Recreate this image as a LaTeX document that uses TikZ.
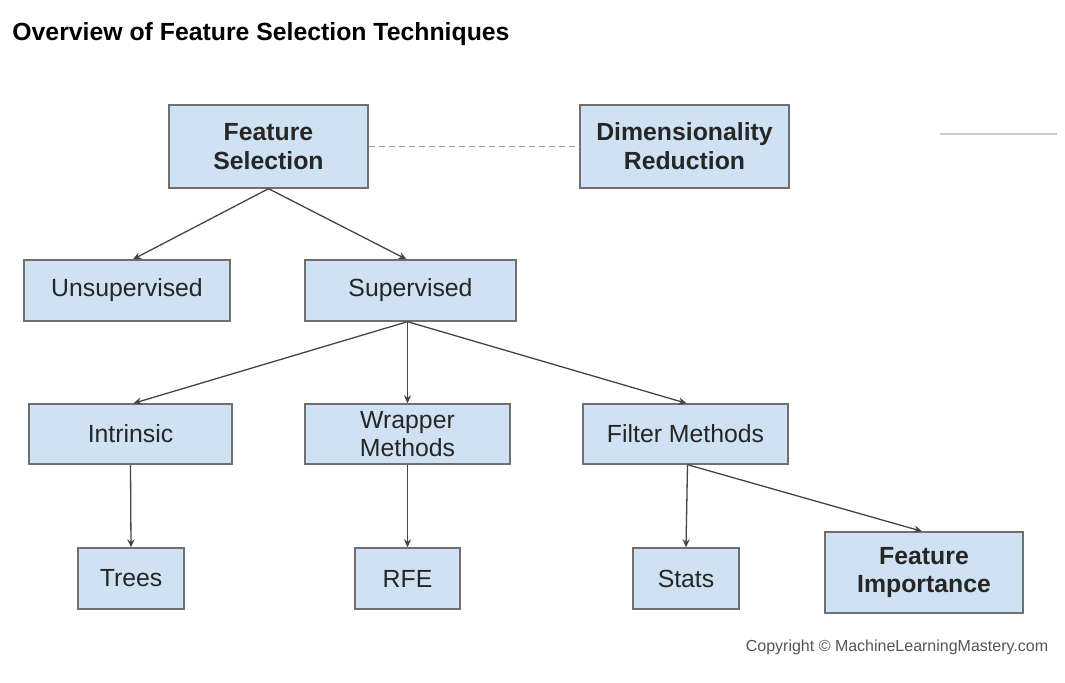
\documentclass[tikz,border=0pt]{standalone}
\usepackage{fontspec}
\setmainfont{Liberation Sans}
\usetikzlibrary{arrows.meta}
\definecolor{boxfill}{HTML}{CFE2F3}
\definecolor{boxline}{HTML}{707070}
\definecolor{arrowc}{HTML}{454545}
\definecolor{dashc}{HTML}{9A9A9A}
\definecolor{copyc}{HTML}{555555}
\begin{document}
\begin{tikzpicture}[x=0.5pt,y=-0.5pt,
  box/.style={draw=boxline, fill=boxfill, line width=0.7pt, inner sep=0pt, align=center,
              text=black!85, font=\fontsize{12.4}{14.4}\selectfont},
  boldbox/.style={box, font=\bfseries\fontsize{12.4}{14.4}\selectfont},
  conn/.style={draw=arrowc, line width=0.65pt, -{Stealth[length=4pt,width=3.6pt]}},
  dashconn/.style={draw=dashc, line width=0.7pt, dash pattern=on 3pt off 2pt},
]
\fill[white] (0,0) rectangle (1065,683);
\useasboundingbox (0,0) rectangle (1065,683);

\node[anchor=west, inner sep=0pt, font=\bfseries\fontsize{12.4}{14}\selectfont] (title) at (12,34) {Overview of Feature Selection Techniques};

% row 1
\node[boldbox, minimum width=99.5pt, minimum height=41.5pt] (fs) at (268.5,146.5) {Feature\\Selection};
\node[boldbox, minimum width=104.5pt, minimum height=41.5pt] (dr) at (684.5,146.5) {Dimensionality\\Reduction};

% row 2
\node[box, minimum width=103pt, minimum height=30.5pt] (uns) at (127,290.5) {Unsupervised};
\node[box, minimum width=105.5pt, minimum height=30.5pt] (sup) at (410.5,290.5) {Supervised};

% row 3
\node[box, minimum width=101.5pt, minimum height=30pt] (intr) at (130.5,434) {Intrinsic};
\node[box, minimum width=102.5pt, minimum height=30pt] (wrap) at (407.5,434) {Wrapper\\Methods};
\node[box, minimum width=102.5pt, minimum height=30pt] (filt) at (685.5,434) {Filter Methods};

% row 4
\node[box, minimum width=53pt, minimum height=30.5pt] (trees) at (131,578.5) {Trees};
\node[box, minimum width=52.5pt, minimum height=30.5pt] (rfe) at (407.5,578.5) {RFE};
\node[box, minimum width=53pt, minimum height=30.5pt] (stats) at (686,578.5) {Stats};
\node[boldbox, minimum width=99pt, minimum height=40.5pt] (fi) at (924,572.5) {Feature\\Importance};

% connectors
\draw[dashconn] (fs.east) -- (dr.west);
\draw[conn] (fs.south) -- ([xshift=3pt]uns.north);
\draw[conn] (fs.south) -- ([xshift=-2pt]sup.north);
\draw[conn] ([xshift=-1.5pt]sup.south) -- ([xshift=1.5pt]intr.north);
\draw[conn] ([xshift=-1.5pt]sup.south) -- (wrap.north);
\draw[conn] ([xshift=-1.5pt]sup.south) -- ([xshift=0.5pt]filt.north);
\draw[conn] (intr.south) -- (trees.north);
\draw[conn] (wrap.south) -- (rfe.north);
\draw[conn] ([xshift=1pt]filt.south) -- (stats.north);
\draw[conn] ([xshift=1pt]filt.south) -- ([xshift=-1pt]fi.north);

% stray rule at right
\coordinate (ruleA) at (940,134);
\coordinate (ruleB) at (1057,134);
\draw[draw=black!20, line width=1pt] (ruleA) -- (ruleB);

\node[anchor=center, inner sep=0pt, text=copyc, font=\fontsize{8}{9.6}\selectfont] (copy) at (897,647) {Copyright \textcopyright{} MachineLearningMastery.com};
\end{tikzpicture}
\end{document}
